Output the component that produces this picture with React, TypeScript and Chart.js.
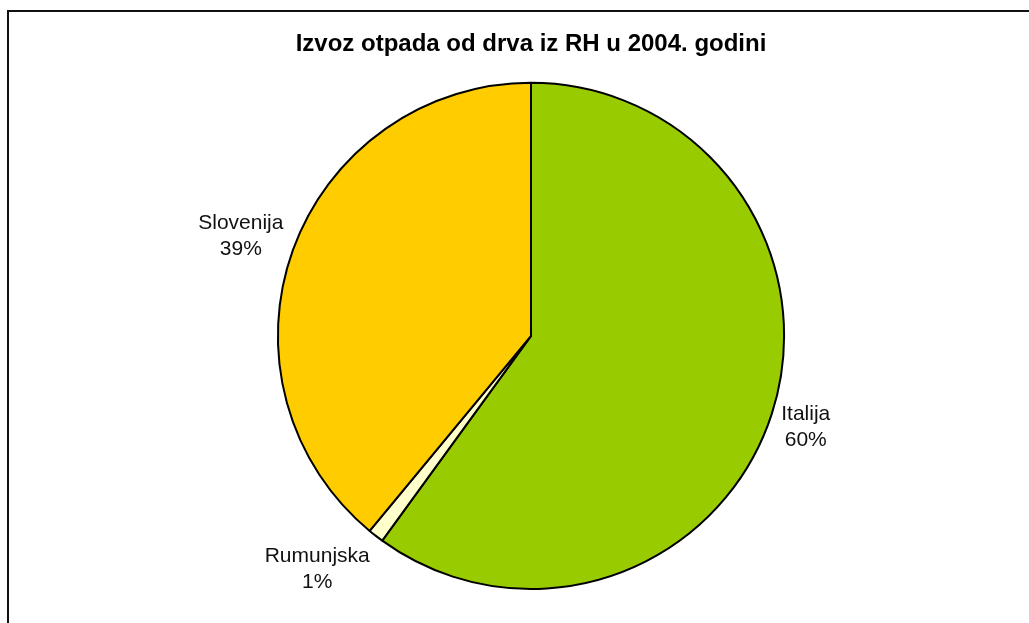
import React, { useEffect, useRef } from "react";
import { Chart, registerables } from "chart.js";

Chart.register(...registerables);

const TITLE = "Izvoz otpada od drva iz RH u 2004. godini";
const categories = ["Italija", "Rumunjska", "Slovenija"];
const values = [60, 1, 39];
const colors = ["#99CC00", "#FFFFCC", "#FFCC00"];

const FONT = "'Liberation Sans', Arial, sans-serif";

const framePlugin = {
  id: "frame",
  beforeDraw(chart: any) {
    const ctx = chart.ctx;
    ctx.save();
    ctx.fillStyle = "#ffffff";
    ctx.fillRect(0, 0, chart.width, chart.height);
    ctx.strokeStyle = "#111111";
    ctx.lineWidth = 2;
    ctx.strokeRect(8, 11, chart.width + 50, chart.height + 50);
    ctx.restore();
  },
};

const labelPlugin = {
  id: "outerLabels",
  afterDraw(chart: any) {
    const ctx = chart.ctx;
    const meta = chart.getDatasetMeta(0);
    const data = chart.data.datasets[0].data as number[];
    const total = data.reduce((a, b) => a + b, 0);
    ctx.save();
    ctx.font = `21px ${FONT}`;
    ctx.fillStyle = "#111111";
    ctx.textAlign = "center";
    ctx.textBaseline = "middle";
    meta.data.forEach((arc: any, i: number) => {
      const p = arc.getProps(["x", "y", "startAngle", "endAngle", "outerRadius"], true);
      const mid = (p.startAngle + p.endAngle) / 2;
      const c = Math.cos(mid);
      const s = Math.sin(mid);
      const lines = [String(chart.data.labels[i]), Math.round((data[i] / total) * 100) + "%"];
      const w = Math.max(...lines.map((l) => ctx.measureText(l).width));
      const ax = p.x + c * (p.outerRadius + 10);
      const ay = p.y + s * (p.outerRadius + 10);
      const cx = ax + Math.sign(c) * (w / 2);
      const cy = ay + s * 32;
      ctx.fillText(lines[0], cx, cy - 13);
      ctx.fillText(lines[1], cx, cy + 13);
    });
    ctx.restore();
  },
};

export default function App() {
  const ref = useRef<HTMLCanvasElement | null>(null);
  useEffect(() => {
    if (!ref.current) return;
    const chart = new Chart(ref.current, {
      type: "pie",
      data: {
        labels: categories,
        datasets: [
          {
            data: values,
            backgroundColor: colors,
            borderColor: "#000000",
            borderWidth: 2,
            hoverOffset: 0,
          },
        ],
      },
      options: {
        responsive: false,
        animation: false,
        rotation: 0,
        layout: { padding: { left: 231, right: 198, top: 0, bottom: 33 } },
        plugins: {
          legend: { display: false },
          tooltip: { enabled: false },
          title: {
            display: true,
            text: TITLE,
            color: "#000000",
            font: { family: FONT, size: 24, weight: "bold", lineHeight: 1.2 },
            padding: { top: 30, bottom: 23 },
          },
        },
      },
      plugins: [framePlugin, labelPlugin],
    });
    return () => chart.destroy();
  }, []);
  return (
    <div style={{ position: "fixed", left: 0, top: 0, width: 1029, height: 623 }}>
      <canvas ref={ref} width={1029} height={623} />
    </div>
  );
}
